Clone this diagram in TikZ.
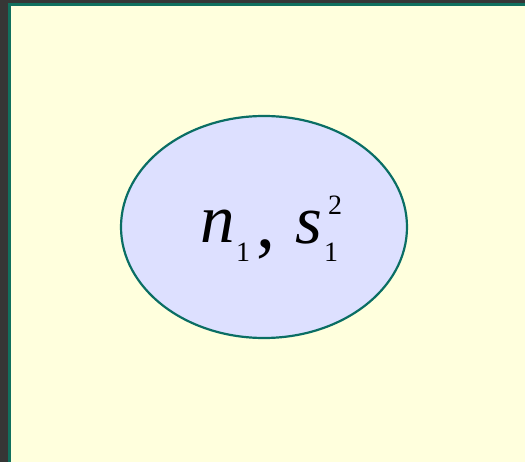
\documentclass[tikz,border=0pt]{standalone}
\usepackage{fontspec}
\setmainfont{Liberation Serif}
\usetikzlibrary{shapes.geometric}
\definecolor{bgdark}{HTML}{363636}
\definecolor{frame}{HTML}{11705E}
\definecolor{paper}{HTML}{FFFFDD}
\definecolor{blob}{HTML}{DDE0FF}
\definecolor{edge}{HTML}{0A6E64}
\tikzset{
  big/.style={inner sep=0pt, anchor=base west, font=\fontsize{69}{69}\selectfont},
  small/.style={inner sep=0pt, anchor=base west, font=\fontsize{28}{28}\selectfont}
}
\begin{document}
\begin{tikzpicture}[x=1pt,y=-1pt]
\useasboundingbox (0,0) rectangle (525,462);
\fill[bgdark] (0,0) rectangle (525,462);
\fill[frame] (8,3) rectangle (525,462);
\fill[paper] (11,6) rectangle (525,462);
\node[ellipse, draw=edge, line width=2.2pt, fill=blob, minimum width=286pt, minimum height=222pt, inner sep=0pt] (e) at (264,227) {};
\node[big] (n) at (200,243) {\itshape n};
\node[small] (n1) at (236,262) {1};
\node[big, font=\fontsize{76}{76}\selectfont] (c) at (256,248) {,};
\node[big] (s) at (295,244) {\itshape s};
\node[small] (s1) at (324,262) {1};
\node[small] (s2) at (328,215) {2};
\end{tikzpicture}
\end{document}
